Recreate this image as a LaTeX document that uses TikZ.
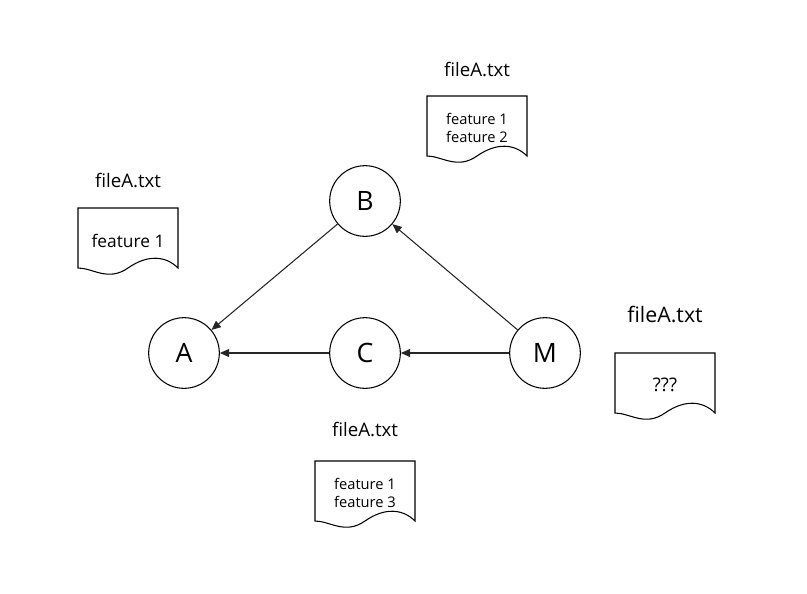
\documentclass[tikz,border=0pt]{standalone}
\usepackage{fontspec}
\setmainfont{Open Sans}
\usetikzlibrary{arrows.meta}
\tikzset{
  commit/.style={circle, draw, thick, minimum size=53pt, inner sep=0pt, font=\fontsize{20}{24}\selectfont},
  fname/.style={font=\fontsize{14}{17}\selectfont},
  ftext/.style={align=center, font=\fontsize{11}{13}\selectfont},
  link/.style={-{Triangle[length=7pt,width=6pt]}, thick, draw=black!85},
}
% document sheet with a wavy bottom, top left corner at (#1,#2)
\newcommand{\docsheet}[2]{%
  \draw[thick, fill=white] (#1,#2) -- ++(100,0) -- ++(0,60)
    .. controls +(-12,-12) and +(20,-14) .. ++(-50,0)
    .. controls +(-20,14) and +(15,0) .. ++(-50,0) -- cycle;}
\begin{document}
\begin{tikzpicture}[x=0.75pt, y=-0.75pt]
    \useasboundingbox (0,0) rectangle (807,593);

    % Commits
    \node[commit] at (184, 353) (A) {A};
    \node[commit] at (365, 201) (B) {B};
    \node[commit] at (365, 353) (C) {C};
    \node[commit] at (545, 353) (M) {M};

    \draw[link] (B) -- (A);
    \draw[link] (C) -- (A);
    \draw[link] (M) -- (B);
    \draw[link] (M) -- (C);

    % Files
    \docsheet{78}{208}
    \docsheet{427}{96}
    \docsheet{315}{461}
    \docsheet{615}{353}

    \node[fname] at (128, 180) (nameA) {fileA.txt};
    \node[fname] at (477, 69) (nameB) {fileA.txt};
    \node[fname] at (365, 429) (nameC) {fileA.txt};
    \node[fname, font=\fontsize{16}{19}\selectfont] at (665, 314) (nameM) {fileA.txt};

    \node[ftext, font=\fontsize{13}{16}\selectfont] at (128, 241) (textA) {feature 1};
    \node[ftext] at (477, 128) (textB) {feature 1\\feature 2};
    \node[ftext] at (365, 493) (textC) {feature 1\\feature 3};
    \node[ftext, font=\fontsize{14}{17}\selectfont] at (665, 385) (textM) {???};

  \end{tikzpicture}
\end{document}
